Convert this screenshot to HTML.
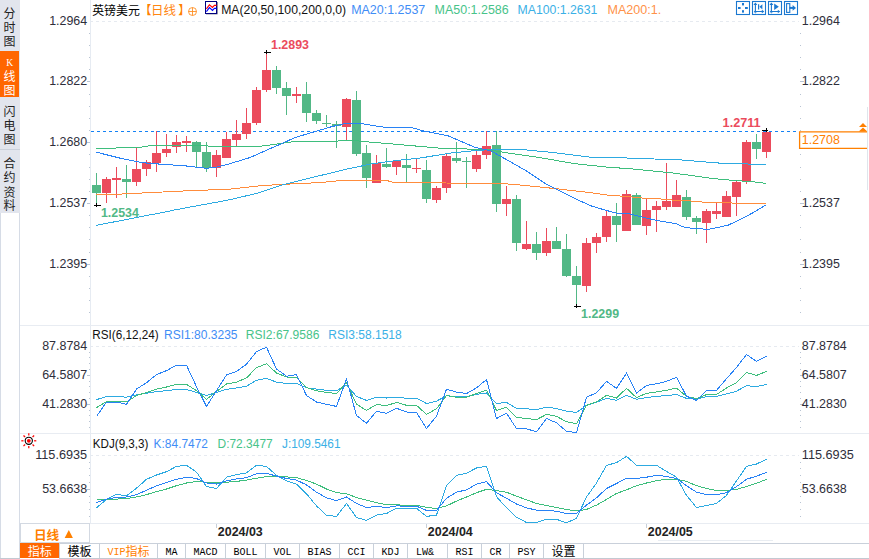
<!DOCTYPE html>
<html lang="zh-CN">
<head>
<meta charset="utf-8">
<title>英镑美元 日线</title>
<style>
html,body{margin:0;padding:0;background:#fff;overflow:hidden}
svg{display:block}
text{white-space:pre}
</style>
</head>
<body>
<svg width="869" height="559" viewBox="0 0 869 559">
<rect width="869" height="559" fill="#fff"/>
<g id="sidebar">
<rect x="0" y="0" width="20" height="213" fill="#E2E5ED"/>
<rect x="0" y="51" width="19" height="46" fill="#FF6600"/>
<line x1="0" y1="149.5" x2="20" y2="149.5" stroke="#CBD1DB" stroke-width="1"/>
<line x1="0.5" y1="213" x2="0.5" y2="559" stroke="#D6DCE6" stroke-width="1"/>
<line x1="19.5" y1="213" x2="19.5" y2="559" stroke="#D6DCE6" stroke-width="1"/>
<text x="9.5 9.5 9.5" y="18 31.8 45.6" font-size="12" fill="#222" text-anchor="middle" font-family='"Liberation Mono","Noto Sans CJK SC",monospace'>分时图</text>
<text x="9.8 9.5 9.5" y="65.8 81 94.8" font-size="12" fill="#fff" text-anchor="middle" font-family='"Liberation Mono","Noto Sans CJK SC",monospace'><tspan font-family='"Liberation Serif",serif' font-size="9.5">K</tspan>线图</text>
<text x="9.5 9.5 9.5" y="115.5 129.6 143.8" font-size="12" fill="#222" text-anchor="middle" font-family='"Liberation Mono","Noto Sans CJK SC",monospace'>闪电图</text>
<text x="9.5 9.5 9.5 9.5" y="167.8 182.2 196.5 210.4" font-size="12" fill="#222" text-anchor="middle" font-family='"Liberation Mono","Noto Sans CJK SC",monospace'>合约资料</text>
</g>
<g id="frame" shape-rendering="crispEdges">
<line x1="90.5" y1="0" x2="90.5" y2="523" stroke="#E6EBF2" stroke-width="1"/>
<line x1="20" y1="325.5" x2="869" y2="325.5" stroke="#E8ECF2" stroke-width="1"/>
<line x1="20" y1="433.5" x2="869" y2="433.5" stroke="#E8ECF2" stroke-width="1"/>
<line x1="20" y1="523.5" x2="869" y2="523.5" stroke="#E8ECF2" stroke-width="1"/>
<line x1="91" y1="21.5" x2="799" y2="21.5" stroke="#E6EAF0" stroke-width="1" stroke-dasharray="3 3" stroke-dashoffset="1"/>
<line x1="91" y1="346.5" x2="799" y2="346.5" stroke="#E6EAF0" stroke-width="1" stroke-dasharray="3 3" stroke-dashoffset="1"/>
<line x1="91" y1="455.5" x2="799" y2="455.5" stroke="#E6EAF0" stroke-width="1" stroke-dasharray="3 3" stroke-dashoffset="1"/>
</g>
<g id="ticks" shape-rendering="crispEdges">
<line x1="88.5" y1="33.5" x2="90" y2="33.5" stroke="#B9C4D3" stroke-width="1"/>
<rect x="800" y="33" width="1" height="1" fill="#B9C4D3"/>
<line x1="88.5" y1="45.5" x2="90" y2="45.5" stroke="#B9C4D3" stroke-width="1"/>
<rect x="800" y="45" width="1" height="1" fill="#B9C4D3"/>
<line x1="88.5" y1="57.5" x2="90" y2="57.5" stroke="#B9C4D3" stroke-width="1"/>
<rect x="800" y="57" width="1" height="1" fill="#B9C4D3"/>
<line x1="88.5" y1="69.5" x2="90" y2="69.5" stroke="#B9C4D3" stroke-width="1"/>
<rect x="800" y="69" width="1" height="1" fill="#B9C4D3"/>
<line x1="87" y1="81.5" x2="90" y2="81.5" stroke="#B9C4D3" stroke-width="1"/>
<line x1="800" y1="81.5" x2="803.5" y2="81.5" stroke="#B9C4D3" stroke-width="1"/>
<line x1="88.5" y1="94.5" x2="90" y2="94.5" stroke="#B9C4D3" stroke-width="1"/>
<rect x="800" y="94" width="1" height="1" fill="#B9C4D3"/>
<line x1="88.5" y1="106.5" x2="90" y2="106.5" stroke="#B9C4D3" stroke-width="1"/>
<rect x="800" y="106" width="1" height="1" fill="#B9C4D3"/>
<line x1="88.5" y1="118.5" x2="90" y2="118.5" stroke="#B9C4D3" stroke-width="1"/>
<rect x="800" y="118" width="1" height="1" fill="#B9C4D3"/>
<line x1="88.5" y1="130.5" x2="90" y2="130.5" stroke="#B9C4D3" stroke-width="1"/>
<rect x="800" y="130" width="1" height="1" fill="#B9C4D3"/>
<line x1="87" y1="142.5" x2="90" y2="142.5" stroke="#B9C4D3" stroke-width="1"/>
<line x1="800" y1="142.5" x2="803.5" y2="142.5" stroke="#B9C4D3" stroke-width="1"/>
<line x1="88.5" y1="154.5" x2="90" y2="154.5" stroke="#B9C4D3" stroke-width="1"/>
<rect x="800" y="154" width="1" height="1" fill="#B9C4D3"/>
<line x1="88.5" y1="167.5" x2="90" y2="167.5" stroke="#B9C4D3" stroke-width="1"/>
<rect x="800" y="167" width="1" height="1" fill="#B9C4D3"/>
<line x1="88.5" y1="179.5" x2="90" y2="179.5" stroke="#B9C4D3" stroke-width="1"/>
<rect x="800" y="179" width="1" height="1" fill="#B9C4D3"/>
<line x1="88.5" y1="191.5" x2="90" y2="191.5" stroke="#B9C4D3" stroke-width="1"/>
<rect x="800" y="191" width="1" height="1" fill="#B9C4D3"/>
<line x1="87" y1="203.5" x2="90" y2="203.5" stroke="#B9C4D3" stroke-width="1"/>
<line x1="800" y1="203.5" x2="803.5" y2="203.5" stroke="#B9C4D3" stroke-width="1"/>
<line x1="88.5" y1="215.5" x2="90" y2="215.5" stroke="#B9C4D3" stroke-width="1"/>
<rect x="800" y="215" width="1" height="1" fill="#B9C4D3"/>
<line x1="88.5" y1="227.5" x2="90" y2="227.5" stroke="#B9C4D3" stroke-width="1"/>
<rect x="800" y="227" width="1" height="1" fill="#B9C4D3"/>
<line x1="88.5" y1="239.5" x2="90" y2="239.5" stroke="#B9C4D3" stroke-width="1"/>
<rect x="800" y="239" width="1" height="1" fill="#B9C4D3"/>
<line x1="88.5" y1="252.5" x2="90" y2="252.5" stroke="#B9C4D3" stroke-width="1"/>
<rect x="800" y="252" width="1" height="1" fill="#B9C4D3"/>
<line x1="87" y1="264.5" x2="90" y2="264.5" stroke="#B9C4D3" stroke-width="1"/>
<line x1="800" y1="264.5" x2="803.5" y2="264.5" stroke="#B9C4D3" stroke-width="1"/>
<line x1="88.5" y1="276.5" x2="90" y2="276.5" stroke="#B9C4D3" stroke-width="1"/>
<rect x="800" y="276" width="1" height="1" fill="#B9C4D3"/>
<line x1="88.5" y1="288.5" x2="90" y2="288.5" stroke="#B9C4D3" stroke-width="1"/>
<rect x="800" y="288" width="1" height="1" fill="#B9C4D3"/>
<line x1="88.5" y1="300.5" x2="90" y2="300.5" stroke="#B9C4D3" stroke-width="1"/>
<rect x="800" y="300" width="1" height="1" fill="#B9C4D3"/>
<line x1="88.5" y1="312.5" x2="90" y2="312.5" stroke="#B9C4D3" stroke-width="1"/>
<rect x="800" y="312" width="1" height="1" fill="#B9C4D3"/>
<line x1="88.5" y1="352.5" x2="90" y2="352.5" stroke="#B9C4D3" stroke-width="1"/>
<rect x="800" y="352" width="1" height="1" fill="#B9C4D3"/>
<line x1="88.5" y1="357.5" x2="90" y2="357.5" stroke="#B9C4D3" stroke-width="1"/>
<rect x="800" y="357" width="1" height="1" fill="#B9C4D3"/>
<line x1="88.5" y1="363.5" x2="90" y2="363.5" stroke="#B9C4D3" stroke-width="1"/>
<rect x="800" y="363" width="1" height="1" fill="#B9C4D3"/>
<line x1="88.5" y1="369.5" x2="90" y2="369.5" stroke="#B9C4D3" stroke-width="1"/>
<rect x="800" y="369" width="1" height="1" fill="#B9C4D3"/>
<line x1="87" y1="375.5" x2="90" y2="375.5" stroke="#B9C4D3" stroke-width="1"/>
<line x1="800" y1="375.5" x2="803.5" y2="375.5" stroke="#B9C4D3" stroke-width="1"/>
<line x1="88.5" y1="381.5" x2="90" y2="381.5" stroke="#B9C4D3" stroke-width="1"/>
<rect x="800" y="381" width="1" height="1" fill="#B9C4D3"/>
<line x1="88.5" y1="386.5" x2="90" y2="386.5" stroke="#B9C4D3" stroke-width="1"/>
<rect x="800" y="386" width="1" height="1" fill="#B9C4D3"/>
<line x1="88.5" y1="392.5" x2="90" y2="392.5" stroke="#B9C4D3" stroke-width="1"/>
<rect x="800" y="392" width="1" height="1" fill="#B9C4D3"/>
<line x1="88.5" y1="398.5" x2="90" y2="398.5" stroke="#B9C4D3" stroke-width="1"/>
<rect x="800" y="398" width="1" height="1" fill="#B9C4D3"/>
<line x1="87" y1="404.5" x2="90" y2="404.5" stroke="#B9C4D3" stroke-width="1"/>
<line x1="800" y1="404.5" x2="803.5" y2="404.5" stroke="#B9C4D3" stroke-width="1"/>
<line x1="88.5" y1="410.5" x2="90" y2="410.5" stroke="#B9C4D3" stroke-width="1"/>
<rect x="800" y="410" width="1" height="1" fill="#B9C4D3"/>
<line x1="88.5" y1="415.5" x2="90" y2="415.5" stroke="#B9C4D3" stroke-width="1"/>
<rect x="800" y="415" width="1" height="1" fill="#B9C4D3"/>
<line x1="88.5" y1="421.5" x2="90" y2="421.5" stroke="#B9C4D3" stroke-width="1"/>
<rect x="800" y="421" width="1" height="1" fill="#B9C4D3"/>
<line x1="88.5" y1="427.5" x2="90" y2="427.5" stroke="#B9C4D3" stroke-width="1"/>
<rect x="800" y="427" width="1" height="1" fill="#B9C4D3"/>
<line x1="88.5" y1="462.5" x2="90" y2="462.5" stroke="#B9C4D3" stroke-width="1"/>
<rect x="800" y="462" width="1" height="1" fill="#B9C4D3"/>
<line x1="88.5" y1="468.5" x2="90" y2="468.5" stroke="#B9C4D3" stroke-width="1"/>
<rect x="800" y="468" width="1" height="1" fill="#B9C4D3"/>
<line x1="88.5" y1="475.5" x2="90" y2="475.5" stroke="#B9C4D3" stroke-width="1"/>
<rect x="800" y="475" width="1" height="1" fill="#B9C4D3"/>
<line x1="88.5" y1="482.5" x2="90" y2="482.5" stroke="#B9C4D3" stroke-width="1"/>
<rect x="800" y="482" width="1" height="1" fill="#B9C4D3"/>
<line x1="87" y1="489.5" x2="90" y2="489.5" stroke="#B9C4D3" stroke-width="1"/>
<line x1="800" y1="489.5" x2="803.5" y2="489.5" stroke="#B9C4D3" stroke-width="1"/>
<line x1="88.5" y1="496.5" x2="90" y2="496.5" stroke="#B9C4D3" stroke-width="1"/>
<rect x="800" y="496" width="1" height="1" fill="#B9C4D3"/>
<line x1="88.5" y1="502.5" x2="90" y2="502.5" stroke="#B9C4D3" stroke-width="1"/>
<rect x="800" y="502" width="1" height="1" fill="#B9C4D3"/>
<line x1="88.5" y1="509.5" x2="90" y2="509.5" stroke="#B9C4D3" stroke-width="1"/>
<rect x="800" y="509" width="1" height="1" fill="#B9C4D3"/>
<line x1="88.5" y1="516.5" x2="90" y2="516.5" stroke="#B9C4D3" stroke-width="1"/>
<rect x="800" y="516" width="1" height="1" fill="#B9C4D3"/>
</g>
<g id="ylabels">
<text x="49.2" y="25.1" font-size="12" fill="#2E2E3A" font-family='"Liberation Sans","Noto Sans CJK SC",sans-serif' textLength="38" lengthAdjust="spacingAndGlyphs">1.2964</text>
<text x="801.8" y="25.1" font-size="12" fill="#2E2E3A" font-family='"Liberation Sans","Noto Sans CJK SC",sans-serif' textLength="38" lengthAdjust="spacingAndGlyphs">1.2964</text>
<text x="49.2" y="84.9" font-size="12" fill="#2E2E3A" font-family='"Liberation Sans","Noto Sans CJK SC",sans-serif' textLength="38" lengthAdjust="spacingAndGlyphs">1.2822</text>
<text x="801.8" y="84.9" font-size="12" fill="#2E2E3A" font-family='"Liberation Sans","Noto Sans CJK SC",sans-serif' textLength="38" lengthAdjust="spacingAndGlyphs">1.2822</text>
<text x="49.2" y="145.9" font-size="12" fill="#2E2E3A" font-family='"Liberation Sans","Noto Sans CJK SC",sans-serif' textLength="38" lengthAdjust="spacingAndGlyphs">1.2680</text>
<text x="801.8" y="145.9" font-size="12" fill="#2E2E3A" font-family='"Liberation Sans","Noto Sans CJK SC",sans-serif' textLength="38" lengthAdjust="spacingAndGlyphs">1.2680</text>
<text x="49.2" y="206.9" font-size="12" fill="#2E2E3A" font-family='"Liberation Sans","Noto Sans CJK SC",sans-serif' textLength="38" lengthAdjust="spacingAndGlyphs">1.2537</text>
<text x="801.8" y="206.9" font-size="12" fill="#2E2E3A" font-family='"Liberation Sans","Noto Sans CJK SC",sans-serif' textLength="38" lengthAdjust="spacingAndGlyphs">1.2537</text>
<text x="49.2" y="267.9" font-size="12" fill="#2E2E3A" font-family='"Liberation Sans","Noto Sans CJK SC",sans-serif' textLength="38" lengthAdjust="spacingAndGlyphs">1.2395</text>
<text x="801.8" y="267.9" font-size="12" fill="#2E2E3A" font-family='"Liberation Sans","Noto Sans CJK SC",sans-serif' textLength="38" lengthAdjust="spacingAndGlyphs">1.2395</text>
<text x="42.2" y="350.1" font-size="12" fill="#2E2E3A" font-family='"Liberation Sans","Noto Sans CJK SC",sans-serif' textLength="45" lengthAdjust="spacingAndGlyphs">87.8784</text>
<text x="801.8" y="350.1" font-size="12" fill="#2E2E3A" font-family='"Liberation Sans","Noto Sans CJK SC",sans-serif' textLength="45" lengthAdjust="spacingAndGlyphs">87.8784</text>
<text x="42.2" y="378.7" font-size="12" fill="#2E2E3A" font-family='"Liberation Sans","Noto Sans CJK SC",sans-serif' textLength="45" lengthAdjust="spacingAndGlyphs">64.5807</text>
<text x="801.8" y="378.7" font-size="12" fill="#2E2E3A" font-family='"Liberation Sans","Noto Sans CJK SC",sans-serif' textLength="45" lengthAdjust="spacingAndGlyphs">64.5807</text>
<text x="42.2" y="407.9" font-size="12" fill="#2E2E3A" font-family='"Liberation Sans","Noto Sans CJK SC",sans-serif' textLength="45" lengthAdjust="spacingAndGlyphs">41.2830</text>
<text x="801.8" y="407.9" font-size="12" fill="#2E2E3A" font-family='"Liberation Sans","Noto Sans CJK SC",sans-serif' textLength="45" lengthAdjust="spacingAndGlyphs">41.2830</text>
<text x="35.2" y="458.7" font-size="12" fill="#2E2E3A" font-family='"Liberation Sans","Noto Sans CJK SC",sans-serif' textLength="52" lengthAdjust="spacingAndGlyphs">115.6935</text>
<text x="801.8" y="458.7" font-size="12" fill="#2E2E3A" font-family='"Liberation Sans","Noto Sans CJK SC",sans-serif' textLength="52" lengthAdjust="spacingAndGlyphs">115.6935</text>
<text x="42.2" y="493" font-size="12" fill="#2E2E3A" font-family='"Liberation Sans","Noto Sans CJK SC",sans-serif' textLength="45" lengthAdjust="spacingAndGlyphs">53.6638</text>
<text x="801.8" y="493" font-size="12" fill="#2E2E3A" font-family='"Liberation Sans","Noto Sans CJK SC",sans-serif' textLength="45" lengthAdjust="spacingAndGlyphs">53.6638</text>
</g>
<line x1="91" y1="131.5" x2="796" y2="131.5" stroke="#1482F5" stroke-width="1" stroke-dasharray="3 3" shape-rendering="crispEdges"/>
<g id="candles" shape-rendering="crispEdges">
<rect x="96" y="173" width="1" height="32" fill="#52B886"/>
<rect x="92" y="185" width="9" height="8" fill="#52B886"/>
<rect x="106" y="177" width="1" height="26" fill="#EB4B5C"/>
<rect x="102" y="179" width="9" height="14" fill="#EB4B5C"/>
<rect x="116" y="167" width="1" height="31" fill="#EB4B5C"/>
<rect x="112" y="178" width="9" height="2" fill="#EB4B5C"/>
<rect x="126" y="165" width="1" height="33" fill="#52B886"/>
<rect x="122" y="179" width="9" height="3" fill="#52B886"/>
<rect x="136" y="148" width="1" height="38" fill="#EB4B5C"/>
<rect x="132" y="169" width="9" height="13" fill="#EB4B5C"/>
<rect x="146" y="160" width="1" height="16" fill="#EB4B5C"/>
<rect x="142" y="162" width="9" height="7" fill="#EB4B5C"/>
<rect x="156" y="131" width="1" height="41" fill="#EB4B5C"/>
<rect x="152" y="153" width="9" height="10" fill="#EB4B5C"/>
<rect x="166" y="134" width="1" height="23" fill="#EB4B5C"/>
<rect x="162" y="149" width="9" height="4" fill="#EB4B5C"/>
<rect x="176" y="135" width="1" height="18" fill="#EB4B5C"/>
<rect x="172" y="142" width="9" height="5" fill="#EB4B5C"/>
<rect x="186" y="136" width="1" height="16" fill="#EB4B5C"/>
<rect x="182" y="141" width="9" height="2" fill="#EB4B5C"/>
<rect x="196" y="141" width="1" height="27" fill="#52B886"/>
<rect x="192" y="142" width="9" height="10" fill="#52B886"/>
<rect x="206" y="142" width="1" height="30" fill="#52B886"/>
<rect x="202" y="152" width="9" height="16" fill="#52B886"/>
<rect x="216" y="150" width="1" height="27" fill="#EB4B5C"/>
<rect x="212" y="155" width="9" height="13" fill="#EB4B5C"/>
<rect x="226" y="132" width="1" height="26" fill="#EB4B5C"/>
<rect x="222" y="139" width="9" height="19" fill="#EB4B5C"/>
<rect x="236" y="120" width="1" height="26" fill="#EB4B5C"/>
<rect x="232" y="134" width="9" height="6" fill="#EB4B5C"/>
<rect x="246" y="108" width="1" height="31" fill="#EB4B5C"/>
<rect x="242" y="123" width="9" height="11" fill="#EB4B5C"/>
<rect x="256" y="87" width="1" height="38" fill="#EB4B5C"/>
<rect x="252" y="90" width="9" height="33" fill="#EB4B5C"/>
<rect x="266" y="52" width="1" height="40" fill="#EB4B5C"/>
<rect x="262" y="70" width="9" height="20" fill="#EB4B5C"/>
<rect x="276" y="66" width="1" height="28" fill="#52B886"/>
<rect x="272" y="70" width="9" height="18" fill="#52B886"/>
<rect x="286" y="82" width="1" height="33" fill="#52B886"/>
<rect x="282" y="88" width="9" height="8" fill="#52B886"/>
<rect x="296" y="87" width="1" height="16" fill="#EB4B5C"/>
<rect x="292" y="94" width="9" height="2" fill="#EB4B5C"/>
<rect x="306" y="82" width="1" height="40" fill="#52B886"/>
<rect x="302" y="94" width="9" height="19" fill="#52B886"/>
<rect x="316" y="110" width="1" height="14" fill="#52B886"/>
<rect x="312" y="113" width="9" height="8" fill="#52B886"/>
<rect x="326" y="115" width="1" height="12" fill="#52B886"/>
<rect x="322" y="123" width="9" height="1" fill="#52B886"/>
<rect x="336" y="121" width="1" height="27" fill="#52B886"/>
<rect x="332" y="124" width="9" height="2" fill="#52B886"/>
<rect x="346" y="98" width="1" height="42" fill="#EB4B5C"/>
<rect x="342" y="99" width="9" height="28" fill="#EB4B5C"/>
<rect x="356" y="91" width="1" height="65" fill="#52B886"/>
<rect x="352" y="100" width="9" height="54" fill="#52B886"/>
<rect x="366" y="145" width="1" height="43" fill="#52B886"/>
<rect x="362" y="153" width="9" height="25" fill="#52B886"/>
<rect x="376" y="155" width="1" height="28" fill="#EB4B5C"/>
<rect x="372" y="163" width="9" height="20" fill="#EB4B5C"/>
<rect x="386" y="148" width="1" height="20" fill="#52B886"/>
<rect x="382" y="164" width="9" height="3" fill="#52B886"/>
<rect x="396" y="160" width="1" height="15" fill="#EB4B5C"/>
<rect x="392" y="161" width="9" height="6" fill="#EB4B5C"/>
<rect x="406" y="154" width="1" height="28" fill="#52B886"/>
<rect x="402" y="165" width="9" height="3" fill="#52B886"/>
<rect x="416" y="159" width="1" height="14" fill="#EB4B5C"/>
<rect x="412" y="168" width="9" height="1" fill="#EB4B5C"/>
<rect x="426" y="160" width="1" height="43" fill="#52B886"/>
<rect x="422" y="170" width="9" height="29" fill="#52B886"/>
<rect x="436" y="186" width="1" height="17" fill="#EB4B5C"/>
<rect x="432" y="188" width="9" height="12" fill="#EB4B5C"/>
<rect x="446" y="154" width="1" height="39" fill="#EB4B5C"/>
<rect x="442" y="156" width="9" height="32" fill="#EB4B5C"/>
<rect x="456" y="142" width="1" height="21" fill="#52B886"/>
<rect x="452" y="158" width="9" height="3" fill="#52B886"/>
<rect x="466" y="157" width="1" height="31" fill="#52B886"/>
<rect x="462" y="161" width="9" height="1" fill="#52B886"/>
<rect x="476" y="151" width="1" height="21" fill="#EB4B5C"/>
<rect x="472" y="155" width="9" height="14" fill="#EB4B5C"/>
<rect x="486" y="131" width="1" height="28" fill="#EB4B5C"/>
<rect x="482" y="146" width="9" height="9" fill="#EB4B5C"/>
<rect x="496" y="131" width="1" height="81" fill="#52B886"/>
<rect x="492" y="145" width="9" height="59" fill="#52B886"/>
<rect x="506" y="186" width="1" height="30" fill="#EB4B5C"/>
<rect x="502" y="199" width="9" height="5" fill="#EB4B5C"/>
<rect x="516" y="195" width="1" height="56" fill="#52B886"/>
<rect x="512" y="199" width="9" height="44" fill="#52B886"/>
<rect x="526" y="221" width="1" height="29" fill="#EB4B5C"/>
<rect x="522" y="244" width="9" height="5" fill="#EB4B5C"/>
<rect x="536" y="232" width="1" height="28" fill="#52B886"/>
<rect x="532" y="244" width="9" height="9" fill="#52B886"/>
<rect x="546" y="228" width="1" height="28" fill="#EB4B5C"/>
<rect x="542" y="241" width="9" height="12" fill="#EB4B5C"/>
<rect x="556" y="227" width="1" height="22" fill="#52B886"/>
<rect x="552" y="241" width="9" height="8" fill="#52B886"/>
<rect x="566" y="234" width="1" height="43" fill="#52B886"/>
<rect x="562" y="249" width="9" height="27" fill="#52B886"/>
<rect x="576" y="266" width="1" height="40" fill="#52B886"/>
<rect x="572" y="276" width="9" height="9" fill="#52B886"/>
<rect x="586" y="238" width="1" height="54" fill="#EB4B5C"/>
<rect x="582" y="243" width="9" height="43" fill="#EB4B5C"/>
<rect x="596" y="233" width="1" height="20" fill="#EB4B5C"/>
<rect x="592" y="237" width="9" height="6" fill="#EB4B5C"/>
<rect x="606" y="211" width="1" height="31" fill="#EB4B5C"/>
<rect x="602" y="216" width="9" height="21" fill="#EB4B5C"/>
<rect x="616" y="203" width="1" height="39" fill="#52B886"/>
<rect x="612" y="216" width="9" height="9" fill="#52B886"/>
<rect x="626" y="190" width="1" height="41" fill="#EB4B5C"/>
<rect x="622" y="194" width="9" height="37" fill="#EB4B5C"/>
<rect x="636" y="193" width="1" height="32" fill="#52B886"/>
<rect x="632" y="195" width="9" height="30" fill="#52B886"/>
<rect x="646" y="199" width="1" height="36" fill="#EB4B5C"/>
<rect x="642" y="210" width="9" height="16" fill="#EB4B5C"/>
<rect x="656" y="201" width="1" height="31" fill="#EB4B5C"/>
<rect x="652" y="206" width="9" height="4" fill="#EB4B5C"/>
<rect x="666" y="163" width="1" height="47" fill="#EB4B5C"/>
<rect x="662" y="201" width="9" height="6" fill="#EB4B5C"/>
<rect x="676" y="180" width="1" height="27" fill="#EB4B5C"/>
<rect x="672" y="195" width="9" height="12" fill="#EB4B5C"/>
<rect x="686" y="190" width="1" height="30" fill="#52B886"/>
<rect x="682" y="197" width="9" height="20" fill="#52B886"/>
<rect x="696" y="216" width="1" height="18" fill="#52B886"/>
<rect x="692" y="218" width="9" height="4" fill="#52B886"/>
<rect x="706" y="209" width="1" height="34" fill="#EB4B5C"/>
<rect x="702" y="211" width="9" height="12" fill="#EB4B5C"/>
<rect x="716" y="203" width="1" height="16" fill="#EB4B5C"/>
<rect x="712" y="211" width="9" height="3" fill="#EB4B5C"/>
<rect x="726" y="191" width="1" height="26" fill="#EB4B5C"/>
<rect x="722" y="196" width="9" height="21" fill="#EB4B5C"/>
<rect x="736" y="181" width="1" height="35" fill="#EB4B5C"/>
<rect x="732" y="182" width="9" height="15" fill="#EB4B5C"/>
<rect x="746" y="140" width="1" height="44" fill="#EB4B5C"/>
<rect x="742" y="142" width="9" height="39" fill="#EB4B5C"/>
<rect x="756" y="134" width="1" height="25" fill="#52B886"/>
<rect x="752" y="142" width="9" height="7" fill="#52B886"/>
<rect x="766" y="130" width="1" height="28" fill="#EB4B5C"/>
<rect x="762" y="132" width="9" height="20" fill="#EB4B5C"/>
</g>
<g id="ma">
<polyline fill="none" stroke="#FF8C3C" stroke-width="1" shape-rendering="crispEdges" points="96.4,194.6 120.2,194.1 152.4,192.5 191.1,190.6 228,189.3 260.7,185.7 282.4,184.4 321.1,182.5 342,180.4 358,180.1 391.5,181.1 392.5,182.5 488,183.4 502.2,183.5 521.5,185.1 555.3,188.6 590.8,192.7 608,195.1 626.5,196.5 636.5,197.5 646.5,198.4 656.5,198.6 666.5,199.5 676.5,200.4 686.5,200.6 696.5,201.5 706.5,202.5 731.1,202.5 733.2,203.6 766,203.6"/>
<polyline fill="none" stroke="#2DAAE1" stroke-width="1" shape-rendering="crispEdges" points="96.1,225.4 168,211.4 174.2,210 228,200.1 258.3,193 282.4,184.9 314.7,176.9 348,168.8 372.2,163.8 396.3,160.5 420.5,158 444.7,154 451,153 461,152 471,151 484,150 490,149.5 521.5,149.5 552.1,152.4 590.8,157.2 618,157.7 682.1,160 690,160.7 722.2,163.3 748,164 766,164.8"/>
<polyline fill="none" stroke="#3EBE7D" stroke-width="1" shape-rendering="crispEdges" points="96.4,148.5 110.6,148.2 141.2,147.1 152.4,145.3 191.1,145.5 228,146.6 260.7,146.2 282.4,143.3 295.3,141.4 336.4,141.4 342,140.3 358,140.9 361.7,141.4 396.3,144.3 441.4,148.3 488,149.6 502.2,152.1 542.4,158 574.7,163.7 608,167.2 632.2,168.9 672.4,172.9 712.7,178.5 732,180.3 754,181.9 766,183.4"/>
<polyline fill="none" stroke="#2882F5" stroke-width="1" shape-rendering="crispEdges" points="96.4,152.2 120.2,158.2 142.8,162.7 162.1,164.3 183,165.6 206.4,168.3 217,167 228,164.3 234.1,162.4 250.2,157.5 266.3,150.3 282.4,143.3 295.3,137.4 314.7,131.7 330.8,126.9 345.3,123.4 361.7,123.7 385.1,127.4 410.8,127.4 423.7,130.9 447.9,135.7 475.3,147.5 490.9,150.8 502.2,157.2 526.3,170.9 545.7,183.8 555.3,188.6 574.7,198.5 590.8,205.8 606.9,210.6 618,213.5 627.3,213.4 656.3,220.4 675.7,223.6 685.3,227.7 700,228.6 707.3,229.6 717.6,227.5 728,225.2 741.5,218.9 754,212.2 766,204.9"/>
</g>
<g id="marks" shape-rendering="crispEdges">
<rect x="94" y="205" width="7" height="1" fill="#000"/>
<rect x="96" y="203" width="1" height="4" fill="#000"/>
<rect x="264" y="52" width="7" height="1" fill="#000"/>
<rect x="266" y="50" width="1" height="4" fill="#000"/>
<rect x="574" y="306" width="7" height="1" fill="#000"/>
<rect x="576" y="304" width="1" height="4" fill="#000"/>
<rect x="762" y="130" width="6" height="1" fill="#000"/>
<rect x="766" y="128" width="1" height="4" fill="#000"/>
</g>
<text x="100.9" y="216.8" font-size="12" fill="#52B886" font-family='"Liberation Sans","Noto Sans CJK SC",sans-serif' font-weight="bold" textLength="38" lengthAdjust="spacingAndGlyphs">1.2534</text>
<text x="271" y="48.9" font-size="12" fill="#EB4B5C" font-family='"Liberation Sans","Noto Sans CJK SC",sans-serif' font-weight="bold" textLength="38" lengthAdjust="spacingAndGlyphs">1.2893</text>
<text x="581.1" y="318.2" font-size="12" fill="#52B886" font-family='"Liberation Sans","Noto Sans CJK SC",sans-serif' font-weight="bold" textLength="38" lengthAdjust="spacingAndGlyphs">1.2299</text>
<text x="722.6" y="126.9" font-size="12" fill="#EB4B5C" font-family='"Liberation Sans","Noto Sans CJK SC",sans-serif' font-weight="bold" textLength="38" lengthAdjust="spacingAndGlyphs">1.2711</text>
<g id="pricebox">
<line x1="867.5" y1="107" x2="867.5" y2="190" stroke="#DFE5EC" stroke-width="1" shape-rendering="crispEdges"/>
<path d="M867 131.9H799.6V148.4H867" fill="#fff" stroke="#FF8000" stroke-width="1.3"/>
<text x="801.8" y="144.2" font-size="12" fill="#FF8000" font-family='"Liberation Sans","Noto Sans CJK SC",sans-serif' textLength="38" lengthAdjust="spacingAndGlyphs">1.2708</text>
<path d="M863 123.1L867 127H859ZM863 127.4L867.3 131.6H858.7Z" fill="#FF8000"/>
</g>
<g id="header">
<text x="92.2" y="14.5" font-size="12" fill="#000" font-family='"Liberation Sans","Noto Sans CJK SC",sans-serif' textLength="47.6" lengthAdjust="spacingAndGlyphs">英镑美元</text>
<text x="139.5" y="14.7" font-size="12" fill="#FF8000" font-family='"Liberation Sans","Noto Sans CJK SC",sans-serif'>【<tspan x="150.9" y="14.8" font-size="12.5" fill="#FF8612">日线</tspan><tspan x="178.3" y="14.7">】</tspan></text>
<g stroke="#FF8A1A" stroke-width="0.85" fill="none"><circle cx="192.5" cy="11.5" r="4"/><path d="M188.5 11.5H196.5M192.5 7.5V15.5"/></g>
<g><rect x="206" y="2" width="11.6" height="12.3" fill="#4A4A66"/><rect x="205.5" y="1.5" width="11" height="12" fill="#fff" stroke="#000080" stroke-width="1"/><polyline points="206.4,8.8 209.4,4.8 212.5,7.4 214.4,5.4 216.6,5.4" fill="none" stroke="#FF0000" stroke-width="1.1"/><polyline points="206.4,11.6 209.4,7.6 212.5,10.4 214.4,8.4 216.6,8.4" fill="none" stroke="#0000FF" stroke-width="1.1"/></g>
<text x="221.2" y="14.2" font-size="12" fill="#111" font-family='"Liberation Sans","Noto Sans CJK SC",sans-serif' textLength="125" lengthAdjust="spacingAndGlyphs">MA(20,50,100,200,0,0)</text>
<text x="351.2" y="14.2" font-size="12" fill="#3F8DF6" font-family='"Liberation Sans","Noto Sans CJK SC",sans-serif' textLength="74.1" lengthAdjust="spacingAndGlyphs">MA20:1.2537</text>
<text x="434.6" y="14.2" font-size="12" fill="#47C389" font-family='"Liberation Sans","Noto Sans CJK SC",sans-serif' textLength="74.1" lengthAdjust="spacingAndGlyphs">MA50:1.2586</text>
<text x="517.6" y="14.2" font-size="12" fill="#3AB0E6" font-family='"Liberation Sans","Noto Sans CJK SC",sans-serif' textLength="79.7" lengthAdjust="spacingAndGlyphs">MA100:1.2631</text>
<text x="607.5" y="14.2" font-size="12" fill="#FF9248" font-family='"Liberation Sans","Noto Sans CJK SC",sans-serif' textLength="53.8" lengthAdjust="spacingAndGlyphs">MA200:1.</text>
<rect x="736.5" y="1.5" width="13" height="13" fill="#fff" stroke="#1B78D0" stroke-width="1.1"/>
<rect x="752.5" y="1.5" width="13" height="13" fill="#fff" stroke="#1B78D0" stroke-width="1.1"/>
<rect x="768.5" y="1.5" width="13" height="13" fill="#fff" stroke="#1B78D0" stroke-width="1.1"/>
<rect x="784.5" y="1.5" width="13" height="13" fill="#fff" stroke="#1B78D0" stroke-width="1.1"/>
<g fill="#1B78D0"><rect x="738" y="7" width="2.6" height="2"/><rect x="745" y="7" width="2.8" height="2"/><rect x="742" y="3" width="2" height="2.4"/><rect x="742" y="10.2" width="2" height="2.4"/></g>
<g stroke="#1B78D0" stroke-width="1" fill="#1B78D0">
<path d="M755.4 3.4V12.6M754.2 11.5H763.4" fill="none" stroke-width="1.1"/>
<path d="M755.4 2.4l2 2.6h-4zM755.4 13.4l1.7 -1.9h-3.4zM764.2 11.5l-2.4 -1.8v3.6zM753.8 11.5l2 -1.6v3.2z" stroke="none"/>
<path d="M758.6 4.2V9.4" fill="none" stroke-width="1.2"/><path d="M759.4 6.8l3 -2.6v5.2z" stroke="none"/>
</g>
<g stroke="#1B78D0" stroke-width="1" fill="#1B78D0">
<path d="M771.4 3.4V12.6M770.2 11.5H779.4" fill="none" stroke-width="1.1"/>
<path d="M771.4 2.4l2 2.6h-4zM771.4 13.4l1.7 -1.9h-3.4zM780.2 11.5l-2.4 -1.8v3.6zM769.8 11.5l2 -1.6v3.2z" stroke="none"/>
<path d="M774.2 3.6l4.6 3.2l-4.6 3.2z" stroke="none"/>
</g>
<g stroke="#1B78D0" fill="none"><rect x="786.6" y="3.6" width="3.2" height="8.8" stroke-width="1.1"/><path d="M789.4 7.9H793.2" stroke-width="2"/><path d="M792.6 5L796 7.9L792.6 10.8Z" fill="#1B78D0" stroke="none"/></g>
</g>
<g id="rsi">
<text x="92.2" y="338.8" font-size="12" fill="#111" font-family='"Liberation Sans","Noto Sans CJK SC",sans-serif' textLength="66.5" lengthAdjust="spacingAndGlyphs">RSI(6,12,24)</text>
<text x="164" y="338.8" font-size="12" fill="#3F8DF6" font-family='"Liberation Sans","Noto Sans CJK SC",sans-serif' textLength="73.5" lengthAdjust="spacingAndGlyphs">RSI1:80.3235</text>
<text x="245.8" y="338.8" font-size="12" fill="#47C389" font-family='"Liberation Sans","Noto Sans CJK SC",sans-serif' textLength="73.6" lengthAdjust="spacingAndGlyphs">RSI2:67.9586</text>
<text x="328.3" y="338.8" font-size="12" fill="#3AB0E6" font-family='"Liberation Sans","Noto Sans CJK SC",sans-serif' textLength="73.4" lengthAdjust="spacingAndGlyphs">RSI3:58.1518</text>
<polyline fill="none" stroke="#2DAAE1" stroke-width="1" shape-rendering="crispEdges" points="96.5,399.6 106.5,396.7 116.5,396.4 126.5,397.2 136.5,394.8 146.5,393.2 156.5,391.6 166.5,390.7 176.5,389.5 186.5,389.5 196.5,392.4 206.5,395.6 216.5,392.4 226.5,389.3 236.5,388 246.5,386.2 256.5,380.3 266.5,378.3 276.5,382.2 286.5,383.5 296.5,383.5 306.5,387.8 316.5,389.1 326.5,390.3 336.5,390.7 346.5,385.1 356.5,396.4 366.5,400.4 376.5,397.2 386.5,398 396.5,397.2 406.5,398.3 416.5,398.3 426.5,403.5 436.5,401.2 446.5,395.6 456.5,396.7 466.5,396.7 476.5,394.3 486.5,392.9 496.5,403.5 506.5,402.4 516.5,408.3 526.5,408.8 536.5,409.6 546.5,407.2 556.5,408.5 566.5,411.2 576.5,412.5 586.5,405.4 596.5,402.2 606.5,398.3 616.5,400.3 626.5,395.3 636.5,399.3 646.5,397.5 656.5,396.4 666.5,395.6 676.5,394.5 686.5,398.4 696.5,399.2 706.5,396.7 716.5,396.4 726.5,394 736.5,391.2 746.5,385.6 756.5,386.7 766.5,384.3"/>
<polyline fill="none" stroke="#3EBE7D" stroke-width="1" shape-rendering="crispEdges" points="96.5,407.7 106.5,401.5 116.5,401.5 126.5,402 136.5,395.6 146.5,392.4 156.5,389.1 166.5,387 176.5,384.3 186.5,384.3 196.5,390.7 206.5,399.3 216.5,391.6 226.5,384 236.5,382.2 246.5,377.9 256.5,367.7 266.5,363.7 276.5,373 286.5,377 296.5,377.4 306.5,387.5 316.5,390.7 326.5,392.4 336.5,393.5 346.5,382.7 356.5,404.2 366.5,410.4 376.5,404.5 386.5,405.6 396.5,402.4 406.5,405.3 416.5,405.3 426.5,414.4 436.5,408.8 446.5,395.6 456.5,397.2 466.5,397.2 476.5,393.5 486.5,390.3 496.5,410.4 506.5,407.2 516.5,417.3 526.5,418.5 536.5,419.6 546.5,414.4 556.5,416.4 566.5,421.7 576.5,423.7 586.5,405.4 596.5,401.8 606.5,395.4 616.5,398 626.5,388.3 636.5,397.6 646.5,393.3 656.5,392 666.5,390.3 676.5,388.1 686.5,396.4 696.5,398.6 706.5,394.6 716.5,394.5 726.5,388 736.5,382.7 746.5,372.5 756.5,375.4 766.5,371.4"/>
<polyline fill="none" stroke="#2882F5" stroke-width="1" shape-rendering="crispEdges" points="96.5,416.5 106.5,402 116.5,402 126.5,404.4 136.5,389.1 146.5,382.7 156.5,374.6 166.5,370.6 176.5,365.3 186.5,365.3 196.5,386.7 206.5,406.5 216.5,390.7 226.5,375 236.5,371.4 246.5,364.2 256.5,351.6 266.5,347.2 276.5,369 286.5,376.2 296.5,374.6 306.5,395.6 316.5,402 326.5,404.4 336.5,406.4 346.5,379.1 356.5,415.5 366.5,423.3 376.5,411.2 386.5,413.3 396.5,408.3 406.5,412 416.5,412.5 426.5,428.5 436.5,416.1 446.5,389.1 456.5,392.2 466.5,393.5 476.5,387.9 486.5,379.5 496.5,418.5 506.5,413.3 516.5,428.5 526.5,428.9 536.5,431.7 546.5,418.5 556.5,422.8 566.5,431.4 576.5,432.6 586.5,397.3 596.5,392.7 606.5,381.4 616.5,388.3 626.5,373.3 636.5,393 646.5,385.5 656.5,383.8 666.5,381.3 676.5,377.4 686.5,396.2 696.5,400.4 706.5,390.4 716.5,390.4 726.5,378.7 736.5,367.4 746.5,354.5 756.5,361.3 766.5,356.1"/>
</g>
<g id="kdj">
<text x="92.8" y="447.6" font-size="12" fill="#111" font-family='"Liberation Sans","Noto Sans CJK SC",sans-serif' textLength="55.6" lengthAdjust="spacingAndGlyphs">KDJ(9,3,3)</text>
<text x="153.6" y="447.6" font-size="12" fill="#3F8DF6" font-family='"Liberation Sans","Noto Sans CJK SC",sans-serif' textLength="54.4" lengthAdjust="spacingAndGlyphs">K:84.7472</text>
<text x="217.5" y="447.6" font-size="12" fill="#47C389" font-family='"Liberation Sans","Noto Sans CJK SC",sans-serif' textLength="55.2" lengthAdjust="spacingAndGlyphs">D:72.3477</text>
<text x="282" y="447.6" font-size="12" fill="#3AB0E6" font-family='"Liberation Sans","Noto Sans CJK SC",sans-serif' textLength="58.5" lengthAdjust="spacingAndGlyphs">J:109.5461</text>
<polyline fill="none" stroke="#2DAAE1" stroke-width="1" shape-rendering="crispEdges" points="96.5,507.8 106.5,499.4 116.5,494.3 126.5,495.9 136.5,488.2 146.5,479.3 156.5,475 166.5,471.7 176.5,466.4 186.5,465.3 196.5,472.1 206.5,486.6 216.5,488.5 226.5,477.2 236.5,474.5 246.5,472.9 256.5,465.3 266.5,466.4 276.5,475.3 286.5,480.9 296.5,484.1 306.5,493.8 316.5,505.9 326.5,515.2 336.5,516.4 346.5,503.5 356.5,517.5 366.5,520.4 376.5,515.1 386.5,513.5 396.5,508.3 406.5,508.3 416.5,508.3 426.5,516.4 436.5,515.1 446.5,485.4 456.5,475.3 466.5,473.2 476.5,468 486.5,466.1 496.5,496.7 506.5,507.8 516.5,517.2 526.5,522.5 536.5,522.5 546.5,519.1 556.5,519.3 566.5,522.8 576.5,518.3 586.5,497 596.5,483 606.5,465.3 616.5,462.7 626.5,456.3 636.5,465.3 646.5,465.3 656.5,465.3 666.5,471.4 676.5,477.2 686.5,495.4 696.5,507.5 706.5,505.4 716.5,503.5 726.5,495.4 736.5,480.9 746.5,466.4 756.5,464 766.5,459.2"/>
<polyline fill="none" stroke="#3EBE7D" stroke-width="1" shape-rendering="crispEdges" points="96.5,499.4 106.5,499.4 116.5,499.1 126.5,498.6 136.5,497 146.5,494.6 156.5,491.7 166.5,489 176.5,485.7 186.5,483 196.5,481.4 206.5,482.2 216.5,483 226.5,482.2 236.5,481.4 246.5,480.1 256.5,478.2 266.5,476.6 276.5,476.4 286.5,476.9 296.5,477.7 306.5,480.4 316.5,484.1 326.5,489 336.5,492.5 346.5,493.8 356.5,497.5 366.5,500.2 376.5,502.7 386.5,504.6 396.5,504.8 406.5,505.4 416.5,505.4 426.5,507.2 436.5,508.6 446.5,505.9 456.5,501.1 466.5,497 476.5,492.7 486.5,489.3 496.5,490.6 506.5,492.2 516.5,496.2 526.5,499.8 536.5,503.5 546.5,505.6 556.5,507.5 566.5,509.4 576.5,511 586.5,509.4 596.5,505.1 606.5,499.4 616.5,493.5 626.5,489.8 636.5,485.7 646.5,483 656.5,480.6 666.5,479.3 676.5,479.3 686.5,481.4 696.5,485.7 706.5,488.5 716.5,490.6 726.5,490.6 736.5,489.3 746.5,486.6 756.5,483.3 766.5,479.3"/>
<polyline fill="none" stroke="#2882F5" stroke-width="1" shape-rendering="crispEdges" points="96.5,502.7 106.5,499.1 116.5,497.5 126.5,497 136.5,494.6 146.5,490.3 156.5,485.7 166.5,482.5 176.5,479.3 186.5,477.2 196.5,478.5 206.5,483 216.5,484.1 226.5,480.7 236.5,479 246.5,477.7 256.5,473.7 266.5,473.3 276.5,476.1 286.5,478.5 296.5,480.1 306.5,484.9 316.5,492.2 326.5,497.8 336.5,500.7 346.5,497 356.5,503.5 366.5,507.5 376.5,506.4 386.5,507.5 396.5,505.9 406.5,506.2 416.5,506.2 426.5,510.4 436.5,510.4 446.5,498.3 456.5,492.2 466.5,489.8 476.5,484.1 486.5,481.7 496.5,492.7 506.5,498.3 516.5,504 526.5,507.8 536.5,510.2 546.5,510.4 556.5,511.2 566.5,513.5 576.5,513.5 586.5,505.1 596.5,497.8 606.5,488.5 616.5,483.5 626.5,478.2 636.5,478.5 646.5,477.2 656.5,475.3 666.5,476.4 676.5,478.5 686.5,485.7 696.5,492.2 706.5,494.6 716.5,494.6 726.5,492.7 736.5,486.6 746.5,479.3 756.5,476.1 766.5,472.4"/>
<g><circle cx="28.8" cy="440.8" r="3.6" fill="#fff" stroke="#000" stroke-width="1.1"/><circle cx="28.8" cy="440.8" r="1.9" fill="#FF0000"/><g stroke="#FF0000" stroke-width="1.25">
<line x1="34.1" y1="440.8" x2="36.3" y2="440.8"/>
<line x1="32.55" y1="444.55" x2="34.1" y2="446.1"/>
<line x1="28.8" y1="446.1" x2="28.8" y2="448.3"/>
<line x1="25.05" y1="444.55" x2="23.5" y2="446.1"/>
<line x1="23.5" y1="440.8" x2="21.3" y2="440.8"/>
<line x1="25.05" y1="437.05" x2="23.5" y2="435.5"/>
<line x1="28.8" y1="435.5" x2="28.8" y2="433.3"/>
<line x1="32.55" y1="437.05" x2="34.1" y2="435.5"/>
</g></g>
</g>
<g id="time">
<line x1="216.5" y1="524" x2="216.5" y2="528" stroke="#C7CFDA" stroke-width="1" shape-rendering="crispEdges"/>
<text x="217.8" y="536.1" font-size="12" fill="#222" font-family='"Liberation Sans","Noto Sans CJK SC",sans-serif' font-weight="bold" textLength="45" lengthAdjust="spacingAndGlyphs">2024/03</text>
<line x1="426.5" y1="524" x2="426.5" y2="528" stroke="#C7CFDA" stroke-width="1" shape-rendering="crispEdges"/>
<text x="427.8" y="536.1" font-size="12" fill="#222" font-family='"Liberation Sans","Noto Sans CJK SC",sans-serif' font-weight="bold" textLength="45" lengthAdjust="spacingAndGlyphs">2024/04</text>
<line x1="646.5" y1="524" x2="646.5" y2="528" stroke="#C7CFDA" stroke-width="1" shape-rendering="crispEdges"/>
<text x="647.8" y="536.1" font-size="12" fill="#222" font-family='"Liberation Sans","Noto Sans CJK SC",sans-serif' font-weight="bold" textLength="45" lengthAdjust="spacingAndGlyphs">2024/05</text>
<line x1="658" y1="540.5" x2="773" y2="540.5" stroke="#E9EDF2" stroke-width="1" shape-rendering="crispEdges"/>
<rect x="20.5" y="523.5" width="69" height="19" fill="#fff" stroke="#D3D9E2" stroke-width="1" shape-rendering="crispEdges"/>
<text x="33.9" y="539.6" font-size="12" fill="#FF8000" font-family='"Liberation Sans","Noto Sans CJK SC",sans-serif' font-weight="bold" textLength="25.4" lengthAdjust="spacingAndGlyphs">日线</text>
<path d="M68.8 530.1L72.9 538.1H64.7Z" fill="#FF8000"/>
</g>
<g id="tabs">
<line x1="20" y1="543.5" x2="869" y2="543.5" stroke="#C9D0DA" stroke-width="1" shape-rendering="crispEdges"/>
<line x1="0" y1="558.5" x2="20" y2="558.5" stroke="#C3C9D2" stroke-width="1" shape-rendering="crispEdges"/>
<line x1="59" y1="558.5" x2="869" y2="558.5" stroke="#C3C9D2" stroke-width="1" shape-rendering="crispEdges"/>
<rect x="20" y="543" width="39" height="15" fill="#FF6600"/>
<text x="27.75" y="556.1" font-size="12" fill="#fff" font-family='"Liberation Mono","Noto Sans CJK SC",monospace' textLength="24" lengthAdjust="spacingAndGlyphs">指标</text>
<line x1="59.5" y1="544" x2="59.5" y2="558" stroke="#C9D0DA" stroke-width="1" shape-rendering="crispEdges"/>
<text x="67.5" y="556.1" font-size="12" fill="#000" font-family='"Liberation Mono","Noto Sans CJK SC",monospace' textLength="24" lengthAdjust="spacingAndGlyphs">模板</text>
<line x1="99.5" y1="544" x2="99.5" y2="558" stroke="#C9D0DA" stroke-width="1" shape-rendering="crispEdges"/>
<text x="107.5" y="555.2" font-size="12" fill="#FF8000" font-family='"Liberation Mono","Noto Sans CJK SC",monospace'><tspan font-size="11" textLength="18" lengthAdjust="spacingAndGlyphs">VIP</tspan><tspan x="125.5" y="556.1" textLength="24" lengthAdjust="spacingAndGlyphs">指标</tspan></text>
<line x1="157.5" y1="544" x2="157.5" y2="558" stroke="#C9D0DA" stroke-width="1" shape-rendering="crispEdges"/>
<text x="165.5" y="555.2" font-size="11" fill="#000" font-family='"Liberation Mono","Noto Sans CJK SC",monospace' textLength="12" lengthAdjust="spacingAndGlyphs">MA</text>
<line x1="185.5" y1="544" x2="185.5" y2="558" stroke="#C9D0DA" stroke-width="1" shape-rendering="crispEdges"/>
<text x="193.5" y="555.2" font-size="11" fill="#000" font-family='"Liberation Mono","Noto Sans CJK SC",monospace' textLength="24" lengthAdjust="spacingAndGlyphs">MACD</text>
<line x1="225.5" y1="544" x2="225.5" y2="558" stroke="#C9D0DA" stroke-width="1" shape-rendering="crispEdges"/>
<text x="233.5" y="555.2" font-size="11" fill="#000" font-family='"Liberation Mono","Noto Sans CJK SC",monospace' textLength="24" lengthAdjust="spacingAndGlyphs">BOLL</text>
<line x1="265.5" y1="544" x2="265.5" y2="558" stroke="#C9D0DA" stroke-width="1" shape-rendering="crispEdges"/>
<text x="273.5" y="555.2" font-size="11" fill="#000" font-family='"Liberation Mono","Noto Sans CJK SC",monospace' textLength="18" lengthAdjust="spacingAndGlyphs">VOL</text>
<line x1="299.5" y1="544" x2="299.5" y2="558" stroke="#C9D0DA" stroke-width="1" shape-rendering="crispEdges"/>
<text x="307.5" y="555.2" font-size="11" fill="#000" font-family='"Liberation Mono","Noto Sans CJK SC",monospace' textLength="24" lengthAdjust="spacingAndGlyphs">BIAS</text>
<line x1="339.5" y1="544" x2="339.5" y2="558" stroke="#C9D0DA" stroke-width="1" shape-rendering="crispEdges"/>
<text x="347.5" y="555.2" font-size="11" fill="#000" font-family='"Liberation Mono","Noto Sans CJK SC",monospace' textLength="18" lengthAdjust="spacingAndGlyphs">CCI</text>
<line x1="373.5" y1="544" x2="373.5" y2="558" stroke="#C9D0DA" stroke-width="1" shape-rendering="crispEdges"/>
<text x="381.5" y="555.2" font-size="11" fill="#000" font-family='"Liberation Mono","Noto Sans CJK SC",monospace' textLength="18" lengthAdjust="spacingAndGlyphs">KDJ</text>
<line x1="407.5" y1="544" x2="407.5" y2="558" stroke="#C9D0DA" stroke-width="1" shape-rendering="crispEdges"/>
<text x="415.9" y="555.2" font-size="11" fill="#000" font-family='"Liberation Mono","Noto Sans CJK SC",monospace' textLength="18" lengthAdjust="spacingAndGlyphs">LW&amp;</text>
<line x1="447.5" y1="544" x2="447.5" y2="558" stroke="#C9D0DA" stroke-width="1" shape-rendering="crispEdges"/>
<text x="455.5" y="555.2" font-size="11" fill="#000" font-family='"Liberation Mono","Noto Sans CJK SC",monospace' textLength="18" lengthAdjust="spacingAndGlyphs">RSI</text>
<line x1="481.5" y1="544" x2="481.5" y2="558" stroke="#C9D0DA" stroke-width="1" shape-rendering="crispEdges"/>
<text x="489.5" y="555.2" font-size="11" fill="#000" font-family='"Liberation Mono","Noto Sans CJK SC",monospace' textLength="12" lengthAdjust="spacingAndGlyphs">CR</text>
<line x1="509.5" y1="544" x2="509.5" y2="558" stroke="#C9D0DA" stroke-width="1" shape-rendering="crispEdges"/>
<text x="517.5" y="555.2" font-size="11" fill="#000" font-family='"Liberation Mono","Noto Sans CJK SC",monospace' textLength="18" lengthAdjust="spacingAndGlyphs">PSY</text>
<line x1="543.5" y1="544" x2="543.5" y2="558" stroke="#C9D0DA" stroke-width="1" shape-rendering="crispEdges"/>
<text x="551.5" y="556.1" font-size="12" fill="#000" font-family='"Liberation Mono","Noto Sans CJK SC",monospace' textLength="24" lengthAdjust="spacingAndGlyphs">设置</text>
<line x1="583.5" y1="544" x2="583.5" y2="558" stroke="#C9D0DA" stroke-width="1" shape-rendering="crispEdges"/>
</g>
</svg>
</body>
</html>
